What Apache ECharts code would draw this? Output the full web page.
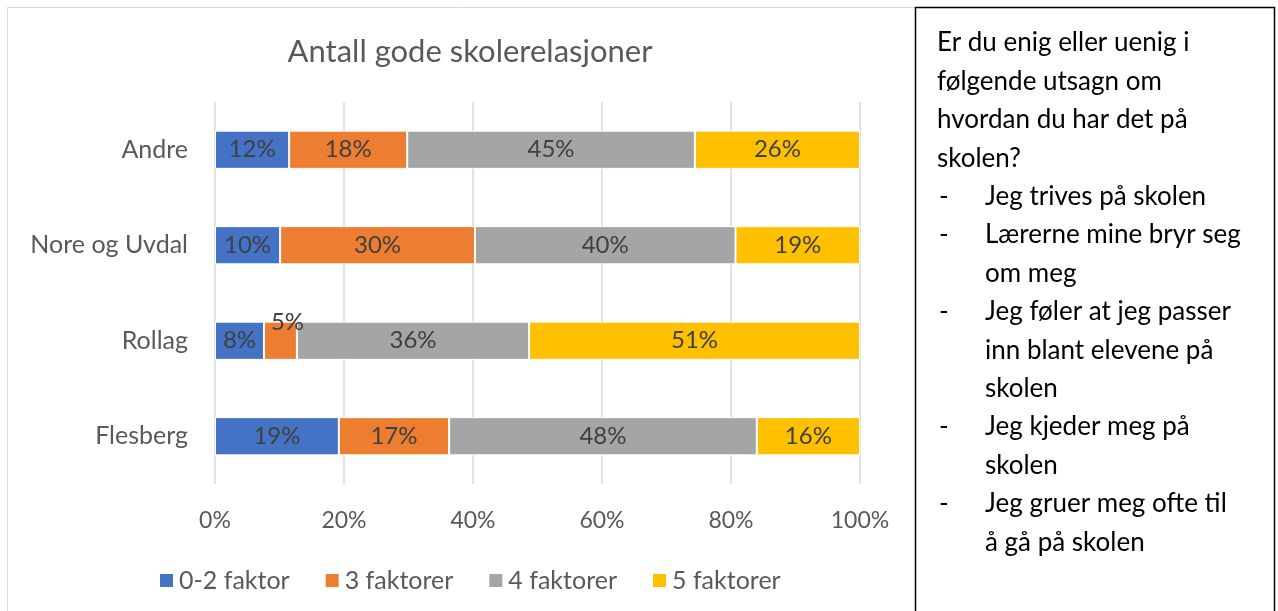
<!DOCTYPE html>
<html>
<head>
<meta charset="utf-8">
<script src="https://cdn.jsdelivr.net/npm/echarts@6/dist/echarts.min.js"></script>
<style>
  html, body { margin: 0; padding: 0; background: #fff; }
  #chart { width: 1278px; height: 611px; }
</style>
</head>
<body>
<div id="chart"></div>
<script>
  // data
  var categories = ['Andre', 'Nore og Uvdal', 'Rollag', 'Flesberg'];
  var seriesNames = ['0-2 faktor', '3 faktorer', '4 faktorer', '5 faktorer'];
  var s02 = [11.5, 10.1, 7.6, 19.2];
  var s3 = [18.3, 30.2, 5.1, 17.1];
  var s4 = [44.6, 40.4, 36.0, 47.7];
  var s5 = [25.6, 19.3, 51.3, 16.0];
  var xTicks = [0, 20, 40, 60, 80, 100];
  var boxLines = [
    ['', 'Er du enig eller uenig i'],
    ['', 'følgende utsagn om'],
    ['', 'hvordan du har det på'],
    ['', 'skolen?'],
    ['-', 'Jeg trives på skolen'],
    ['-', 'Lærerne mine bryr seg'],
    [' ', 'om meg'],
    ['-', 'Jeg føler at jeg passer'],
    [' ', 'inn blant elevene på'],
    [' ', 'skolen'],
    ['-', 'Jeg kjeder meg på'],
    [' ', 'skolen'],
    ['-', 'Jeg gruer meg ofte til'],
    [' ', 'å gå på skolen']
  ];

  var colors = ['#4472C4', '#ED7D31', '#A5A5A5', '#FFC000'];
  var font = 'Lato, "Open Sans", sans-serif';
  var myCharts = echarts.init(document.getElementById('chart'));

  var allData = [s02, s3, s4, s5];
  var series = allData.map(function (vals, k) {
    return {
      name: seriesNames[k],
      type: 'bar',
      stack: 'total',
      barWidth: '40%',
      itemStyle: { color: colors[k], borderColor: '#fff', borderWidth: 1 },
      label: {
        show: true,
        position: 'inside',
        color: '#404040',
        fontFamily: font,
        fontSize: 24,
        formatter: function (p) { return Math.round(p.value) + '%'; }
      },
      labelLayout: function (p) {
        // label that does not fit is pushed up, like Excel does
        if (p.rect.width < p.labelRect.width + 10) {
          return { dx: 7, dy: -18 };
        }
        return {};
      },
      data: vals
    };
  });

  // text box on the right
  var graphics = [
    { type: 'rect', silent: true, shape: { x: 7.5, y: 7.5, width: 908, height: 700 },
      style: { fill: 'none', stroke: '#D9D9D9', lineWidth: 1 } },
    { type: 'rect', silent: true, shape: { x: 915.5, y: 7.5, width: 359, height: 700 },
      style: { fill: '#fff', stroke: '#000', lineWidth: 1.5 } }
  ];
  boxLines.forEach(function (ln, i) {
    var y = 43 + i * 38.4;
    var st = { font: '26px ' + font, fill: '#000', verticalAlign: 'middle' };
    if (ln[0] === '') {
      graphics.push({ type: 'text', silent: true, x: 937, y: y,
        style: Object.assign({ text: ln[1] }, st) });
    } else {
      if (ln[0] === '-') {
        graphics.push({ type: 'text', silent: true, x: 939, y: y,
          style: Object.assign({ text: '-' }, st) });
      }
      graphics.push({ type: 'text', silent: true, x: 985, y: y,
        style: Object.assign({ text: ln[1] }, st) });
    }
  });

  var option = {
    animation: false,
    backgroundColor: '#fff',
    title: {
      text: 'Antall gode skolerelasjoner',
      left: 465,
      textAlign: 'center',
      top: 31,
      textStyle: { color: '#595959', fontFamily: font, fontSize: 31, fontWeight: 'normal' }
    },
    legend: {
      data: seriesNames,
      left: 153,
      top: 563,
      icon: 'rect',
      itemWidth: 15,
      itemHeight: 15,
      itemGap: 34,
      textStyle: { color: '#595959', fontFamily: font, fontSize: 25 }
    },
    grid: { left: 215, right: 418, top: 102, bottom: 127, containLabel: false },
    xAxis: {
      type: 'value',
      min: xTicks[0],
      max: xTicks[xTicks.length - 1],
      interval: xTicks[1] - xTicks[0],
      axisLine: { show: false },
      axisTick: { show: false },
      splitLine: { lineStyle: { color: '#D9D9D9', width: 1.5 } },
      axisLabel: { formatter: '{value}%', color: '#595959', fontFamily: font, fontSize: 23, margin: 25 }
    },
    yAxis: {
      type: 'category',
      data: categories,
      inverse: true,
      axisLine: { show: false },
      axisTick: { show: false },
      axisLabel: { color: '#595959', fontFamily: font, fontSize: 25, margin: 27 }
    },
    graphic: graphics,
    series: series
  };
  myCharts.setOption(option);
</script>
</body>
</html>
